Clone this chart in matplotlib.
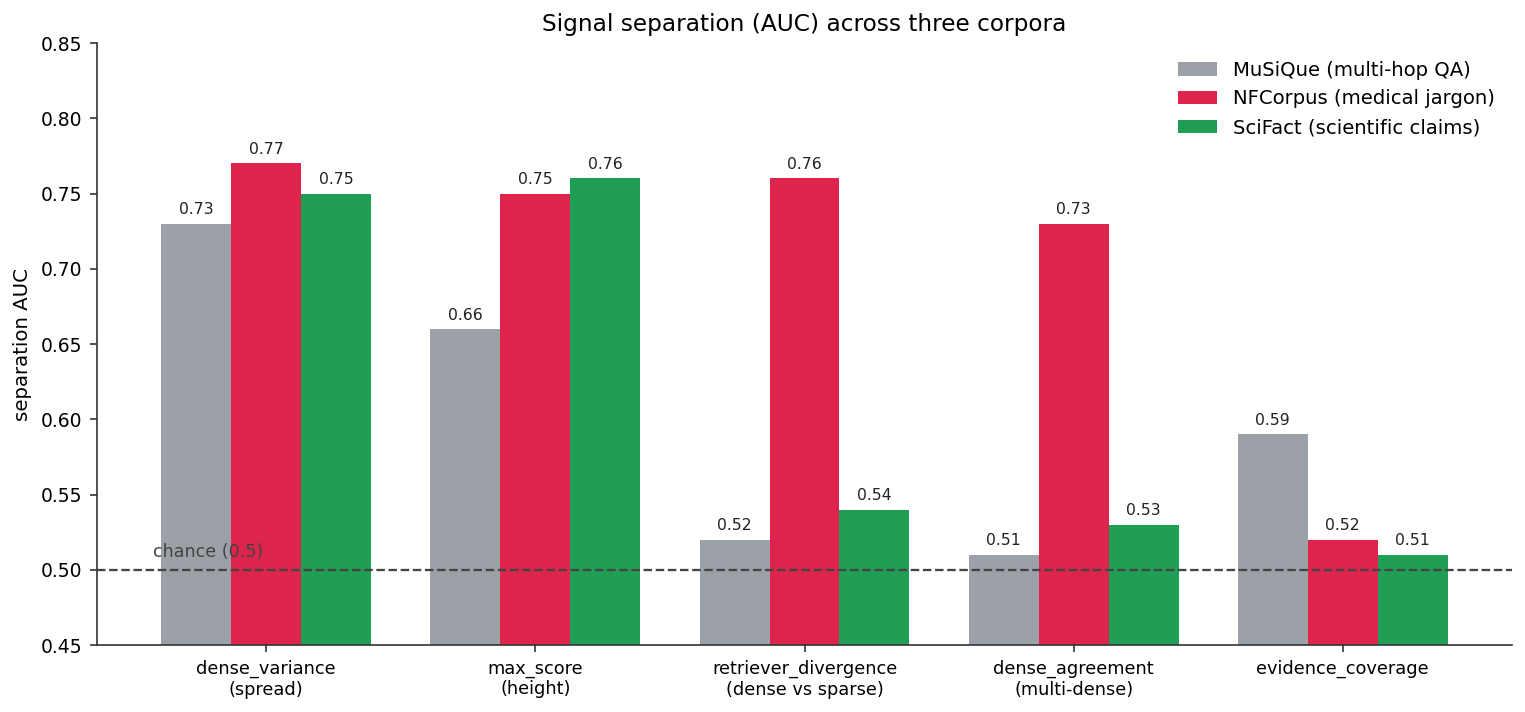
import numpy as np
import matplotlib
matplotlib.use("Agg")
import matplotlib.pyplot as plt

# signal names shown on the x axis
signals = [
    "dense_variance\n(spread)",
    "max_score\n(height)",
    "retriever_divergence\n(dense vs sparse)",
    "dense_agreement\n(multi-dense)",
    "evidence_coverage",
]

corpora = [
    "MuSiQue (multi-hop QA)",
    "NFCorpus (medical jargon)",
    "SciFact (scientific claims)",
]

musique_auc = [0.73, 0.66, 0.52, 0.51, 0.59]
nfcorpus_auc = [0.77, 0.75, 0.76, 0.73, 0.52]
scifact_auc = [0.75, 0.76, 0.54, 0.53, 0.51]

colors = ["#9ca0a7", "#dc244c", "#209e55"]

CHANCE = 0.5
WIDTH = 0.26


def main():
    fig, ax = plt.subplots(figsize=(1525 / 150, 712 / 150), dpi=150)
    fig.subplots_adjust(left=0.0636, right=0.9915, top=0.9396, bottom=0.0941)

    x = np.arange(len(signals))
    series = [musique_auc, nfcorpus_auc, scifact_auc]
    for i, (name, vals) in enumerate(zip(corpora, series)):
        bars = ax.bar(x + (i - 1) * WIDTH, vals, WIDTH, color=colors[i], label=name, zorder=2)
        ax.bar_label(bars, labels=[f"{v:.2f}" for v in vals], padding=3,
                     fontsize=7.5, color="#222222")

    # chance level
    ax.axhline(CHANCE, color="#444444", linestyle="--", linewidth=1.1, zorder=3)
    ax.text(-0.42, CHANCE + 0.0055, "chance (0.5)", fontsize=8.4, color="#444444",
            ha="left", va="bottom", zorder=4)

    ax.set_ylim(0.45, 0.85)
    ax.set_xticks(x)
    ax.set_xticklabels(signals, fontsize=8.5)
    ax.tick_params(axis="y", labelsize=9)
    ax.set_ylabel("separation AUC", fontsize=9.5)
    ax.set_title("Signal separation (AUC) across three corpora", fontsize=11.2)

    for side in ["top", "right"]:
        ax.spines[side].set_visible(False)
    for side in ["left", "bottom"]:
        ax.spines[side].set_color("#333333")
    ax.tick_params(colors="#333333", labelcolor="black")

    ax.legend(loc="upper right", frameon=False, fontsize=9.4)

    fig.savefig("out.png", dpi=150)


if __name__ == "__main__":
    main()
